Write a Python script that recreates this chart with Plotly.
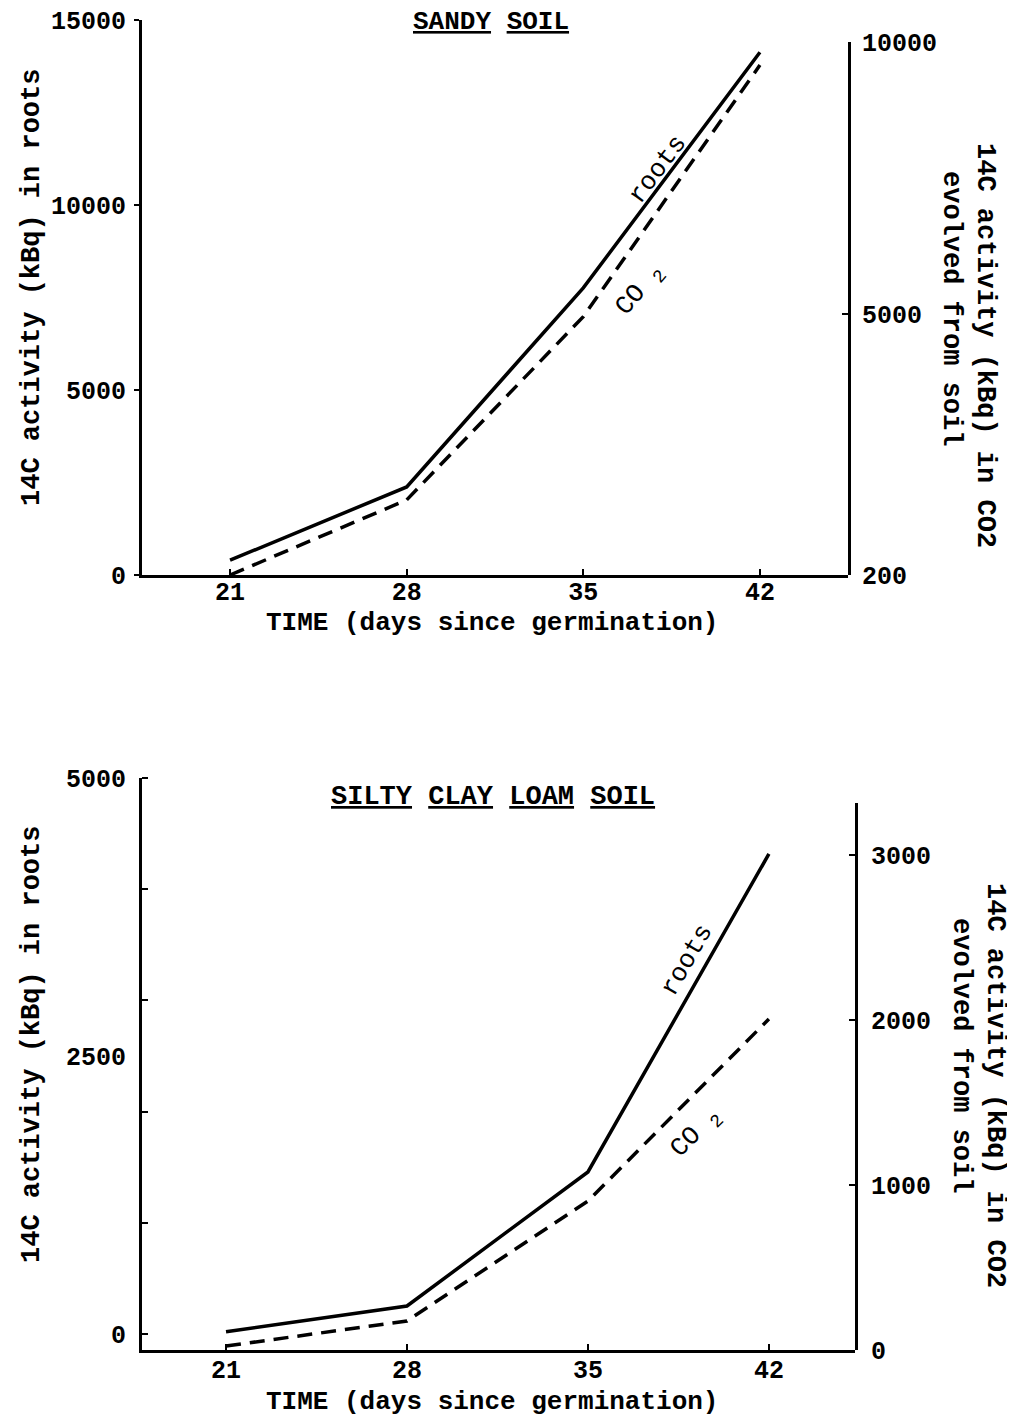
import plotly.graph_objects as go

# ---- data ----
days = [21, 28, 35, 42]
day_labels = ["21", "28", "35", "42"]

sandy_roots = [400, 2380, 7760, 14130]      # left axis (kBq in roots)
sandy_co2 = [200, 1580, 4950, 9575]         # right axis (kBq in CO2)

silty_roots = [20, 252, 1457, 4317]         # left axis
silty_co2 = [24, 176, 903, 2006]            # right axis

sandy_left_ticks = [0, 5000, 10000, 15000]
sandy_right_ticks = [200, 5000, 10000]
silty_left_ticks = [0, 2500, 5000]
silty_left_minor = [0, 1000, 2000, 3000, 4000, 5000]
silty_right_ticks = [0, 1000, 2000, 3000]

# page has an 8px body margin; figure is sized so it fits the 1015x1428 window
OFF = 8
W, H = 1015 - OFF, 1428 - 2 * OFF
def px(x):
    return (x - OFF) / W
def py(y):
    return 1 - (y - OFF) / H

FONT = "Liberation Mono"
tfont = dict(family=FONT, size=25, color="black", weight="bold")
lfont = dict(family=FONT, size=26, color="black", weight="bold")
sfont = dict(family=FONT, size=27, color="black", weight="bold")
yfont = dict(family=FONT, size=27, color="black", weight="bold")
cfont = dict(family=FONT, size=26, color="black", weight="normal")

fig = go.Figure()
solid = dict(color="black", width=3.5)
dashed = dict(color="black", width=3.5, dash="15px,9px")
fig.add_trace(go.Scatter(x=days, y=sandy_roots, xaxis="x", yaxis="y", mode="lines", line=solid, showlegend=False))
fig.add_trace(go.Scatter(x=days, y=sandy_co2, xaxis="x", yaxis="y2", mode="lines", line=dashed, showlegend=False))
fig.add_trace(go.Scatter(x=days, y=silty_roots, xaxis="x2", yaxis="y3", mode="lines", line=solid, showlegend=False))
fig.add_trace(go.Scatter(x=days, y=silty_co2, xaxis="x2", yaxis="y4", mode="lines", line=dashed, showlegend=False))

axis_common = dict(showline=True, linewidth=3, linecolor="black", showgrid=False,
                   zeroline=False, tickfont=tfont, tickcolor="black", tickwidth=2,
                   automargin=False, ticklabeloverflow="allow")

def labels(v):
    return [str(t) for t in v]

fig.update_layout(
    width=W, height=H, autosize=False, showlegend=False,
    margin=dict(l=0, r=0, t=0, b=0, pad=0, autoexpand=False),
    paper_bgcolor="white", plot_bgcolor="rgba(0,0,0,0)",
    xaxis=dict(domain=[px(142), px(848)], anchor="y", range=[17.51, 45.49],
               tickvals=days, ticktext=day_labels, ticks="inside", ticklen=6,
               ticklabelstandoff=-8, **axis_common),
    yaxis=dict(domain=[py(575), py(20)], anchor="x", range=[0, 15000],
               tickvals=sandy_left_ticks, ticktext=labels(sandy_left_ticks),
               ticks="outside", ticklen=5, ticklabelstandoff=3, **axis_common),
    yaxis2=dict(domain=[py(575), py(42)], anchor="x", side="right", range=[200, 10000],
                tickvals=sandy_right_ticks, ticktext=labels(sandy_right_ticks),
                ticks="inside", ticklen=6, ticklabelstandoff=6, **axis_common),
    xaxis2=dict(domain=[px(142), px(855)], anchor="y3", range=[17.75, 45.33],
                tickvals=days, ticktext=day_labels, ticks="inside", ticklen=6,
                ticklabelstandoff=-5, **axis_common),
    yaxis3=dict(domain=[py(1350), py(778)], anchor="x2", range=[-144, 5000],
                tickvals=silty_left_ticks, ticktext=labels(silty_left_ticks),
                ticks="", ticklabelstandoff=8,
                minor=dict(tickvals=silty_left_minor, ticks="inside", ticklen=6, tickwidth=2, tickcolor="black"),
                **axis_common),
    yaxis4=dict(domain=[py(1350), py(803)], anchor="x2", side="right", range=[0, 3315],
                tickvals=silty_right_ticks, ticktext=labels(silty_right_ticks),
                ticks="inside", ticklen=6, ticklabelstandoff=8, **axis_common),
)

ann = []
def A(text, x, y, angle=0, xref="paper", yref="paper", font=lfont):
    ann.append(dict(text=text, x=x, y=y, xref=xref, yref=yref, showarrow=False,
                    textangle=angle, xanchor="center", yanchor="middle", font=font))

# panel titles
A("<u>SANDY</u> <u>SOIL</u>", px(491), py(22))
A("<u>SILTY</u> <u>CLAY</u> <u>LOAM</u> <u>SOIL</u>", px(493), py(797), font=sfont)

# x titles
A("TIME (days since germination)", px(492), py(623))
A("TIME (days since germination)", px(492), py(1402))

# left y titles
A("14C activity (kBq) in roots", px(32), py(288), angle=-90, font=yfont)
A("14C activity (kBq) in roots", px(32), py(1045), angle=-90, font=yfont)

# right y titles
A("14C activity (kBq) in CO2", px(985), py(345), angle=90, font=yfont)
A("evolved from soil", px(951), py(308), angle=90, font=yfont)
A("14C activity (kBq) in CO2", px(995), py(1085), angle=90, font=yfont)
A("evolved from soil", px(961), py(1055), angle=90, font=yfont)

# line labels
A("roots", 37.94, 10946, angle=-53, xref="x", yref="y", font=cfont)
A("CO <sub>2</sub>", 37.26, 7700, angle=-50, xref="x", yref="y", font=cfont)
A("roots", 38.84, 3363, angle=-60, xref="x2", yref="y3", font=cfont)
A("CO <sub>2</sub>", 39.19, 1807, angle=-45, xref="x2", yref="y3", font=cfont)

fig.update_layout(annotations=ann)
fig.write_html("out.html")
